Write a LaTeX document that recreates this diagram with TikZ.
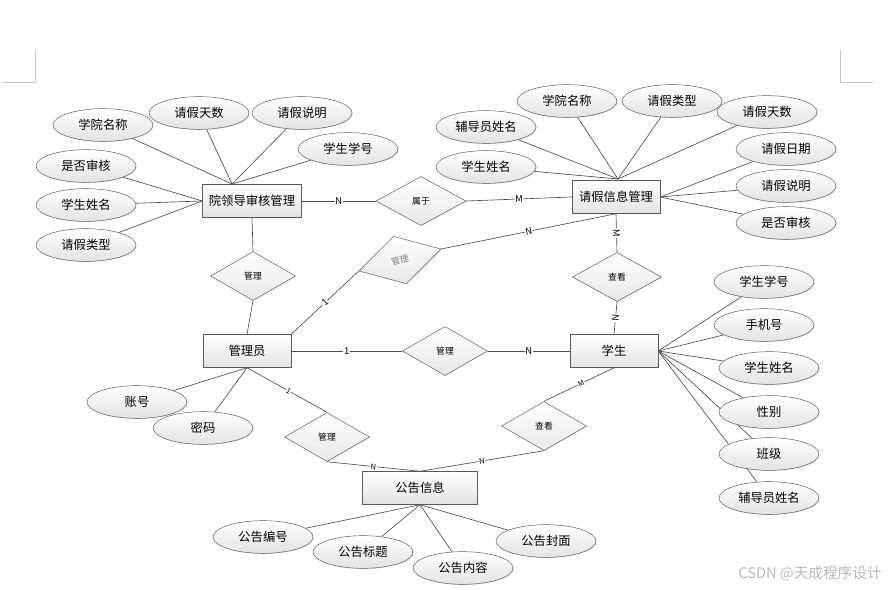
\documentclass[tikz,border=0pt]{standalone}
\usepackage{fontspec}
\setmainfont{Noto Sans CJK SC}
\usetikzlibrary{shapes.geometric,shadows,backgrounds}

\begin{document}
\begin{tikzpicture}[
  x=0.03cm, y=-0.03cm,
  ent/.style={
    rectangle, draw=gray!70!black, top color=white, bottom color=gray!22,
    minimum width=2.64cm, minimum height=0.99cm, inner sep=1pt,
    font=\fontsize{10.5}{12}\selectfont,
    drop shadow={opacity=0.3, shadow xshift=0.8pt, shadow yshift=-0.8pt}
  },
  attr/.style={
    ellipse, draw=gray!70!black, top color=white, bottom color=gray!22,
    minimum width=3cm, minimum height=0.98cm, inner sep=0pt,
    font=\fontsize{10.5}{12}\selectfont,
    drop shadow={opacity=0.25, shadow xshift=0.6pt, shadow yshift=-0.6pt}
  },
  rel/.style={
    diamond, draw=gray!70!black, top color=white, bottom color=gray!18,
    minimum width=2.55cm, minimum height=1.47cm, inner sep=0pt,
    font=\fontsize{7.5}{9}\selectfont,
    drop shadow={opacity=0.2, shadow xshift=0.6pt, shadow yshift=-0.6pt}
  },
  card/.style={fill=white, inner sep=0.6pt, sloped, font=\fontsize{8}{9}\selectfont},
  cardsm/.style={card, font=\fontsize{6.5}{7}\selectfont},
  ln/.style={draw=gray!60!black, line width=0.55pt}
]
  \useasboundingbox (0,0) rectangle (896,590);

  % page corner marks
  \draw[gray!45, line width=0.8pt] (3,82) -- (35,82) -- (35,50);
  \draw[gray!45, line width=0.8pt] (873,82) -- (840,82) -- (840,50);

  % entities
  \node[ent, minimum width=2.97cm] (yld) at (252,201) {院领导审核管理};
  \node[ent] (qj) at (616,197) {请假信息管理};
  \node[ent] (gly) at (247,351) {管理员};
  \node[ent] (xs) at (614,351) {学生};
  \node[ent, minimum width=3.45cm] (gg) at (420,488) {公告信息};

  % relationships
  \node[rel, minimum width=2.7cm] (sy) at (421,201) {属于};
  \node[rel] (gl1) at (253,276) {管理};
  \node[rel, rotate=15, text=gray] (gl2) at (400,260) {管理};
  \node[rel] (gl3) at (445,351) {管理};
  \node[rel, minimum width=2.67cm] (ck1) at (617,277) {查看};
  \node[rel] (gl4) at (327,437) {管理};
  \node[rel] (ck2) at (544,426) {查看};

  % connectors
  \draw[ln] (yld.east) -- node[card]{N} (sy.west);
  \draw[ln] (sy.east) -- node[card]{M} (qj.west);
  \draw[ln] (yld.south) -- (gl1.north);
  \draw[ln] (gl1.south) -- (gly.north);
  \draw[ln] (gly.north east) -- node[card]{1} (gl2.west);
  \draw[ln] (gl2.east) -- node[card]{N} (qj.south);
  \draw[ln] (ck1.north) -- node[card]{M} (qj.south);
  \draw[ln] (xs.north) -- node[card]{N} (ck1.south);
  \draw[ln] (gly.east) -- node[card]{1} (gl3.west);
  \draw[ln] (gl3.east) -- node[card]{N} (xs.west);
  \draw[ln] (gly.south) -- node[cardsm, pos=0.52]{1} (gl4.north);
  \draw[ln] (gl4.south) -- node[cardsm]{N} (gg.north);
  \draw[ln] (gg.north) -- node[cardsm]{N} (ck2.south);
  \draw[ln] (ck2.north) -- node[cardsm, pos=0.53]{M} (xs.south);

  % attribute ends
  \coordinate (yldtop) at (232,184);
  \coordinate (qjtop) at (618,179);

  % attributes of 院领导审核管理
  \foreach \n/\x/\y/\t in {a1/103/125/学院名称, a2/199/113/请假天数,
      a3/302/113/请假说明, a4/348/149/学生学号} {
    \node[attr] (\n) at (\x,\y) {\t};
    \begin{scope}[on background layer]
      \draw[ln] (\n) -- (yldtop);
    \end{scope}
  }
  \foreach \n/\x/\y/\t in {a5/86/166/是否审核, a6/86/205/学生姓名, a7/86/245/请假类型} {
    \node[attr] (\n) at (\x,\y) {\t};
    \begin{scope}[on background layer]
      \draw[ln] (\n) -- (yld.west);
    \end{scope}
  }

  % attributes of 请假信息管理
  \foreach \n/\x/\y/\t in {b1/486/127/辅导员姓名, b2/567/101/学院名称,
      b3/672/101/请假类型, b4/767/112/请假天数, b5/486/167/学生姓名} {
    \node[attr] (\n) at (\x,\y) {\t};
    \begin{scope}[on background layer]
      \draw[ln] (\n) -- (qjtop);
    \end{scope}
  }
  \foreach \n/\x/\y/\t in {b6/786/149/请假日期, b7/786/186/请假说明, b8/786/223/是否审核} {
    \node[attr] (\n) at (\x,\y) {\t};
    \begin{scope}[on background layer]
      \draw[ln] (\n) -- (qj.east);
    \end{scope}
  }

  % attributes of 学生
  \foreach \n/\x/\y/\t in {c1/764/282/学生学号, c2/764/325/手机号, c3/769/368/学生姓名,
      c4/769/412/性别, c5/769/454/班级, c6/769/498/辅导员姓名} {
    \node[attr] (\n) at (\x,\y) {\t};
    \begin{scope}[on background layer]
      \draw[ln] (\n) -- (xs.east);
    \end{scope}
  }

  % attributes of 管理员
  \foreach \n/\x/\y/\t in {d1/137/402/账号, d2/203/428/密码} {
    \node[attr] (\n) at (\x,\y) {\t};
    \begin{scope}[on background layer]
      \draw[ln] (\n) -- (gly.south);
    \end{scope}
  }

  % attributes of 公告信息
  \foreach \n/\x/\y/\t in {e1/263/537/公告编号, e2/363/552/公告标题,
      e3/463/568/公告内容, e4/546/541/公告封面} {
    \node[attr] (\n) at (\x,\y) {\t};
    \begin{scope}[on background layer]
      \draw[ln] (\n) -- (gg.south);
    \end{scope}
  }

  % watermark
  \node[text=gray!55, font=\fontsize{12.5}{14}\selectfont] (wm) at (810,574) {CSDN @天成程序设计};
\end{tikzpicture}
\end{document}
